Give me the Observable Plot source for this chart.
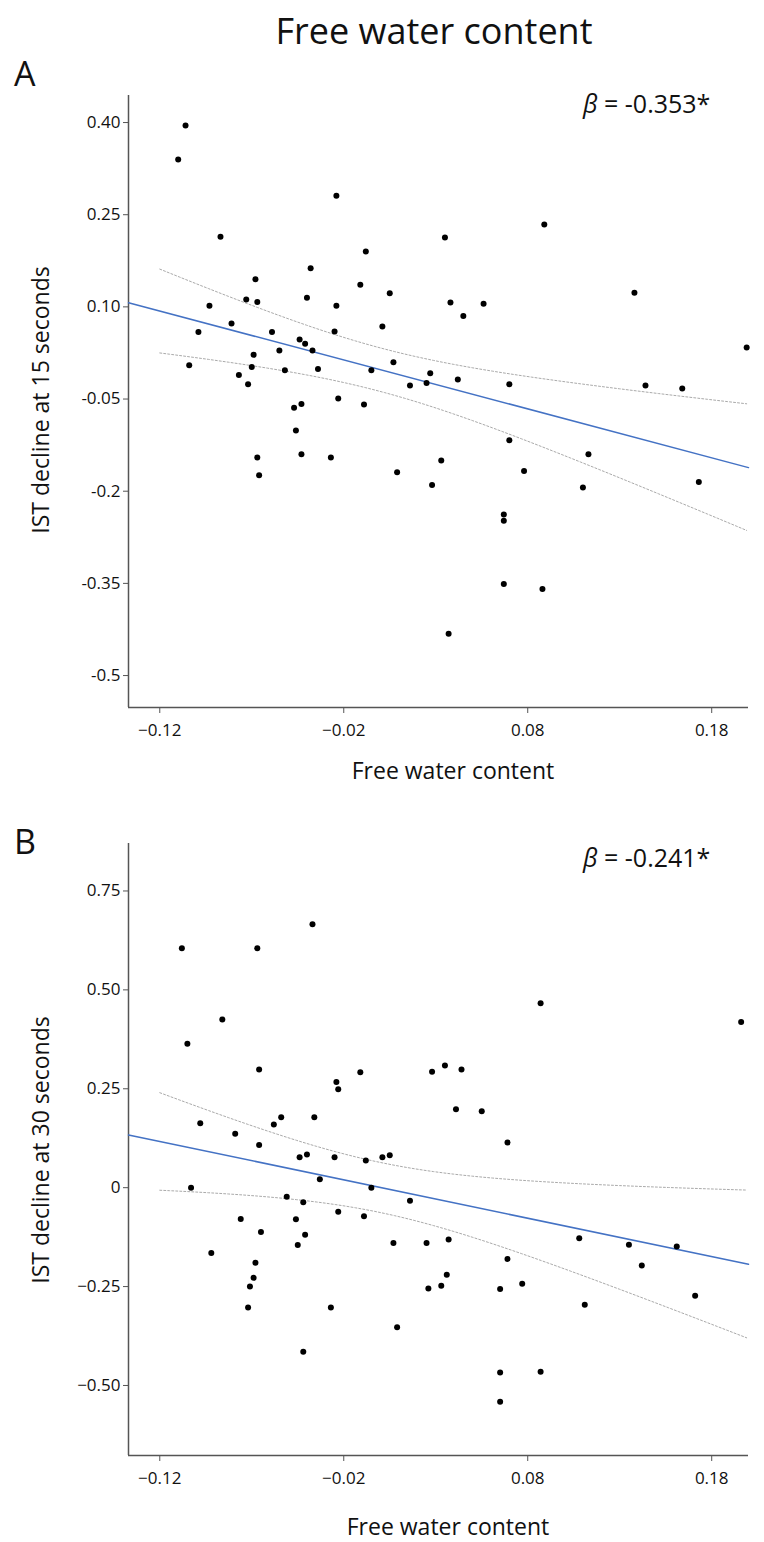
<!DOCTYPE html>
<html><head><meta charset="utf-8">
<script src="https://cdn.jsdelivr.net/npm/d3@7"></script>
<script src="https://cdn.jsdelivr.net/npm/@observablehq/plot@0.6"></script>
<style>
body{margin:0;background:#fff;font-family:"Open Sans",sans-serif;}
#page{position:relative;width:764px;height:1542px;}
.t{position:absolute;white-space:nowrap;color:#111;font-family:"Open Sans",sans-serif;}
</style></head><body><div id="page"></div>
<script>
// Panel A: IST decline at 15 seconds
const xA = [-0.106,-0.110,-0.024,-0.087,-0.008,-0.038,-0.068,-0.011,0.005,-0.073,-0.067,-0.040,-0.093,-0.024,-0.081,-0.099,-0.059,-0.025,0.001,-0.044,-0.041,-0.037,-0.055,-0.069,-0.104,-0.070,-0.052,-0.034,0.007,-0.005,-0.077,-0.072,0.016,-0.047,-0.043,-0.023,-0.009,-0.046,-0.067,-0.043,-0.027,-0.066,0.009,0.035,0.089,0.038,0.056,0.045,0.138,0.199,0.027,0.025,0.042,0.070,0.144,0.164,0.070,0.033,0.113,0.028,0.078,0.110,0.173,0.067,0.067,0.067,0.088,0.037];
const yA = [0.395,0.340,0.281,0.214,0.190,0.163,0.145,0.136,0.122,0.112,0.108,0.115,0.102,0.102,0.073,0.059,0.059,0.060,0.068,0.047,0.040,0.029,0.029,0.022,0.005,0.002,-0.003,-0.001,0.010,-0.003,-0.011,-0.026,-0.028,-0.064,-0.058,-0.049,-0.059,-0.101,-0.145,-0.140,-0.145,-0.174,-0.169,0.213,0.234,0.107,0.105,0.085,0.123,0.034,-0.008,-0.024,-0.018,-0.026,-0.028,-0.033,-0.117,-0.150,-0.140,-0.190,-0.167,-0.194,-0.185,-0.238,-0.248,-0.351,-0.359,-0.432];
// Panel B: IST decline at 30 seconds
const xB = [-0.037,-0.108,-0.067,-0.086,-0.105,-0.066,-0.011,-0.024,-0.023,0.028,-0.098,-0.058,-0.054,-0.036,-0.079,-0.066,-0.044,-0.040,-0.025,-0.008,0.001,0.005,-0.103,-0.033,-0.005,-0.051,-0.042,0.016,-0.023,-0.009,-0.076,-0.046,-0.065,-0.041,-0.045,0.007,0.025,-0.092,-0.068,-0.069,-0.071,0.026,-0.072,-0.027,0.009,-0.042,0.087,0.196,0.035,0.044,0.041,0.055,0.069,0.037,0.108,0.135,0.161,0.069,0.142,0.036,0.033,0.065,0.077,0.111,0.171,0.065,0.087,0.065];
const yB = [0.666,0.605,0.605,0.425,0.364,0.299,0.292,0.267,0.249,0.293,0.163,0.160,0.178,0.178,0.136,0.108,0.077,0.084,0.077,0.069,0.077,0.082,0.000,0.021,0.000,-0.023,-0.037,-0.033,-0.061,-0.072,-0.079,-0.080,-0.112,-0.119,-0.145,-0.140,-0.140,-0.165,-0.190,-0.228,-0.250,-0.255,-0.303,-0.303,-0.353,-0.415,0.466,0.419,0.309,0.299,0.198,0.193,0.114,-0.131,-0.128,-0.144,-0.149,-0.180,-0.197,-0.220,-0.248,-0.256,-0.243,-0.296,-0.273,-0.467,-0.465,-0.541];
const xTicks = [-0.12,-0.02,0.08,0.18];
const yTicksA = [-0.5,-0.35,-0.2,-0.05,0.1,0.25,0.4];
const yTicksB = [-0.5,-0.25,0,0.25,0.5,0.75];
const xDomain = [-0.137,0.2];

const page = document.getElementById("page");
function txt(s, css){const d=document.createElement("div");d.className="t";d.innerHTML=s;Object.assign(d.style,css);page.appendChild(d);}

function panel(xs, ys, yDomain, yTicks, yFmt, top){
  const data = xs.map((x,i)=>({x, y: ys[i]}));
  const n = xs.length, mx = d3.mean(xs), my = d3.mean(ys);
  const sxx = d3.sum(xs, x=>(x-mx)**2), sxy = d3.sum(data, d=>(d.x-mx)*(d.y-my));
  const b = sxy/sxx, a = my - b*mx;
  const s = Math.sqrt(d3.sum(data, d=>(d.y-a-b*d.x)**2)/(n-2));
  const t = 1.997;
  const grid = d3.range(0, 61).map(i => -0.12 + i*(0.199+0.12)/60);
  const ci = grid.map(x => {const se = s*Math.sqrt(1/n + (x-mx)**2/sxx); return {x, lo: a+b*x-t*se, hi: a+b*x+t*se};});
  const fit = xDomain.map(x => ({x, y: a+b*x}));
  const svg = Plot.plot({
    width: 764, height: 710,
    marginLeft: 128, marginRight: 16, marginTop: 15, marginBottom: 83,
    style: {fontFamily: "'Open Sans', sans-serif", fontSize: "17px", color: "#111", background: "transparent"},
    x: {domain: xDomain},
    y: {domain: yDomain},
    marks: [
      Plot.axisX({ticks: xTicks, tickFormat: d => d3.format(".2f")(d), tickSize: 6, tickPadding: 10, label: null, stroke: "#555"}),
      Plot.axisY({ticks: yTicks, tickFormat: yFmt, tickSize: 5, tickPadding: 3, label: null, stroke: "#555"}),
      Plot.ruleX([xDomain[0]], {stroke: "#555", strokeWidth: 1.5}),
      Plot.ruleY([yDomain[0]], {stroke: "#555", strokeWidth: 1.5}),
      Plot.line(ci, {x: "x", y: "lo", stroke: "#aaa", strokeWidth: 1, strokeDasharray: "2,2"}),
      Plot.line(ci, {x: "x", y: "hi", stroke: "#aaa", strokeWidth: 1, strokeDasharray: "2,2"}),
      Plot.line(fit, {x: "x", y: "y", stroke: "#4472C4", strokeWidth: 1.5}),
      Plot.dot(data, {x: "x", y: "y", r: 3, fill: "#000", stroke: null})
    ]
  });
  svg.style.position = "absolute"; svg.style.left = "0px"; svg.style.top = top + "px";
  page.appendChild(svg);
}

txt("Free water content", {left: "434px", transform: "translateX(-50%)", top: "6px", fontSize: "36px"});
txt("A", {left: "14px", top: "50px", fontSize: "34px"});
txt("<i>β</i> = -0.353*", {left: "583px", top: "86px", fontSize: "25px"});
panel(xA, yA, [-0.552, 0.444], yTicksA, d => ({0.4:"0.40",0.1:"0.10"})[d] ?? String(d), 80);
txt("Free water content", {left: "453px", transform: "translateX(-50%)", top: "754px", fontSize: "23px"});
txt("IST decline at 15 seconds", {left: "40px", top: "400px", fontSize: "23px", transform: "translate(-50%,-50%) rotate(-90deg)"});

txt("B", {left: "14px", top: "818px", fontSize: "34px"});
txt("<i>β</i> = -0.241*", {left: "583px", top: "840px", fontSize: "25px"});
panel(xB, yB, [-0.677, 0.870], yTicksB, d => d === 0 ? "0" : d3.format(".2f")(d), 828);
txt("Free water content", {left: "448px", transform: "translateX(-50%)", top: "1510px", fontSize: "23px"});
txt("IST decline at 30 seconds", {left: "40px", top: "1150px", fontSize: "23px", transform: "translate(-50%,-50%) rotate(-90deg)"});
</script></body></html>
